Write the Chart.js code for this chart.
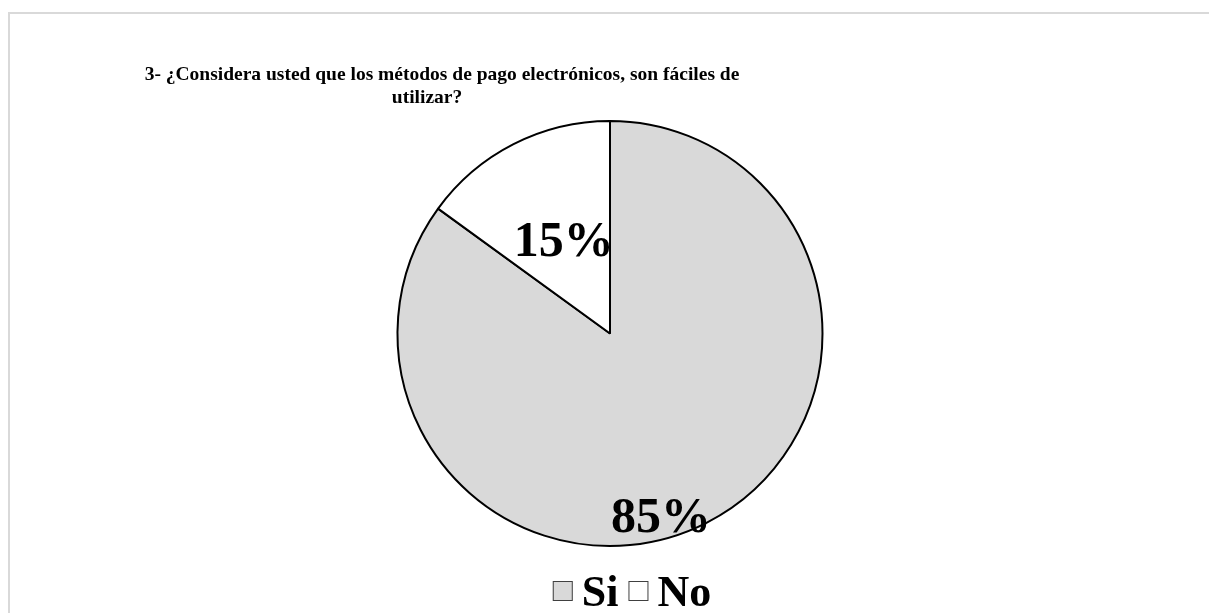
<!DOCTYPE html>
<html>
<head>
<meta charset="utf-8">
<script src="https://cdn.jsdelivr.net/npm/chart.js@4"></script>
<style>
  html, body { margin: 0; padding: 0; background: #ffffff; }
  body { width: 1209px; height: 613px; position: relative; overflow: hidden; }
  #frame { position: absolute; left: 8px; top: 12px; width: 1400px; height: 800px;
           border: 2px solid #d9d9d9; box-sizing: border-box; }
  #wrap { position: absolute; left: 0; top: 0; width: 1209px; height: 613px; }
</style>
</head>
<body>
<div id="frame"></div>
<div id="wrap"><canvas id="chart" width="1209" height="613"></canvas></div>
<script>
// Survey answers and their shares (percent)
const categories = ['Si', 'No'];
const shares = [85, 15];
const sliceColors = ['#d9d9d9', '#ffffff'];
const titleLines = [
  '3- ¿Considera usted que los métodos de pago electrónicos, son fáciles de',
  'utilizar?'
];

const SERIF = '"Liberation Serif", "DejaVu Serif", serif';

// Two-line title, drawn in the upper-left part of the frame
const titlePlugin = {
  id: 'wrappedTitle',
  afterDraw(chart, args, opts) {
    const ctx = chart.ctx;
    ctx.save();
    ctx.font = 'bold 19.5px ' + SERIF;
    ctx.fillStyle = '#000';
    ctx.textAlign = 'center';
    ctx.textBaseline = 'alphabetic';
    opts.lines.forEach((line, i) => {
      ctx.fillText(line, opts.centers[i], opts.baselines[i]);
    });
    ctx.restore();
  }
};

// Percentage labels inside each slice
const sliceLabelPlugin = {
  id: 'sliceLabels',
  afterDatasetsDraw(chart, args, opts) {
    const ctx = chart.ctx;
    const meta = chart.getDatasetMeta(0);
    const data = chart.data.datasets[0].data;
    const total = data.reduce((a, b) => a + b, 0);
    ctx.save();
    ctx.font = 'bold 50px ' + SERIF;
    ctx.fillStyle = '#000';
    ctx.textAlign = 'center';
    ctx.textBaseline = 'middle';
    meta.data.forEach((arc, i) => {
      const p = arc.getProps(['x', 'y', 'startAngle', 'endAngle', 'outerRadius'], true);
      const mid = (p.startAngle + p.endAngle) / 2 + opts.angleShift[i] * Math.PI / 180;
      const r = p.outerRadius * opts.radial[i];
      const pct = Math.round(data[i] / total * 100) + '%';
      ctx.fillText(pct, p.x + Math.cos(mid) * r, p.y + Math.sin(mid) * r);
    });
    ctx.restore();
  }
};

// Legend row under the pie: outlined square swatch followed by the category name
const legendRowPlugin = {
  id: 'legendRow',
  afterDraw(chart, args, opts) {
    const ctx = chart.ctx;
    const ds = chart.data.datasets[0];
    const box = opts.box, gap = opts.gap, itemGap = opts.itemGap;
    ctx.save();
    ctx.font = 'bold 44px ' + SERIF;
    ctx.textBaseline = 'alphabetic';
    ctx.textAlign = 'left';
    const widths = chart.data.labels.map(l => ctx.measureText(l).width);
    let total = 0;
    widths.forEach((w, i) => { total += box + gap + w + (i ? itemGap : 0); });
    let x = opts.centerX - total / 2;
    const top = opts.baseline - box - 5;
    chart.data.labels.forEach((label, i) => {
      if (i) x += itemGap;
      ctx.fillStyle = ds.backgroundColor[i];
      ctx.fillRect(x, top, box, box);
      ctx.strokeStyle = '#404040';
      ctx.lineWidth = 1;
      ctx.strokeRect(x + 0.5, top + 0.5, box - 1, box - 1);
      x += box + gap;
      ctx.fillStyle = '#000';
      ctx.fillText(label, x, opts.baseline);
      x += widths[i];
    });
    ctx.restore();
  }
};

new Chart(document.getElementById('chart'), {
  type: 'pie',
  data: {
    labels: categories,
    datasets: [{
      data: shares,
      backgroundColor: sliceColors,
      borderColor: '#000000',
      borderWidth: 2
    }]
  },
  options: {
    responsive: false,
    animation: false,
    layout: { padding: { top: 120, bottom: 66, left: 11, right: 0 } },
    plugins: {
      legend: { display: false },
      title: { display: false },
      tooltip: { enabled: false },
      wrappedTitle: { lines: titleLines, centers: [442, 427], baselines: [80, 103] },
      sliceLabels: { radial: [0.905, 0.48], angleShift: [11.6, 0] },
      legendRow: { centerX: 632, baseline: 606, box: 20, gap: 9, itemGap: 10 }
    }
  },
  plugins: [titlePlugin, sliceLabelPlugin, legendRowPlugin]
});
</script>
</body>
</html>
